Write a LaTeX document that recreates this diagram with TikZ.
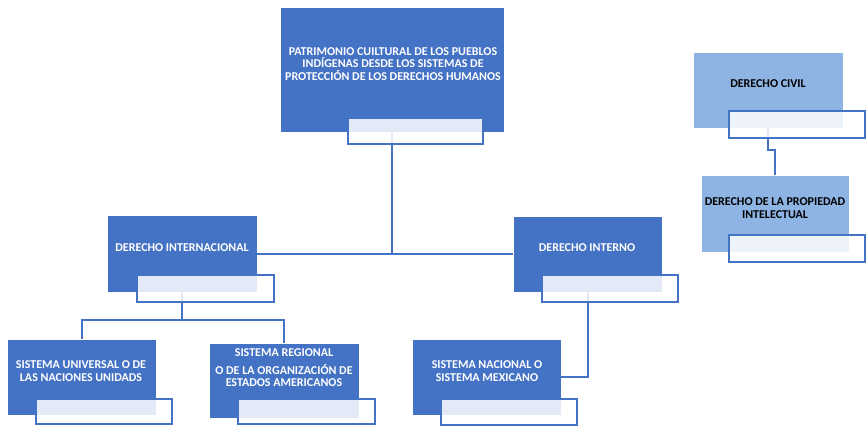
\documentclass[tikz,border=0pt]{standalone}
\usepackage{fontspec}
\setmainfont{Carlito}[BoldFont={Carlito Bold}]
\definecolor{dblue}{HTML}{4472C4}
\definecolor{lblue}{HTML}{8EB4E3}
\tikzset{
  every node/.style={inner sep=0pt, outer sep=0pt},
  bigbox/.style={draw=white, line width=0.6pt, fill=dblue, anchor=north west},
  lightbox/.style={draw=white, line width=0.6pt, fill=lblue, anchor=north west},
  subbox/.style={draw=dblue, line width=1.8pt, fill=white, fill opacity=0.85, anchor=north west},
  wtext/.style={text=white, font=\bfseries\fontsize{12}{12.5}\selectfont, align=center},
  btext/.style={text=black, font=\bfseries\fontsize{12}{12.5}\selectfont, align=center},
  conn/.style={draw=dblue, line width=2pt}
}
\begin{document}
\begin{tikzpicture}[x=1pt, y=-1pt]
\useasboundingbox (0,0) rectangle (866,426);
% main boxes
\node[bigbox, minimum width=224pt, minimum height=125pt] (top) at (280,7) {};
\node[bigbox, minimum width=150pt, minimum height=77pt] (intl) at (107,215) {};
\node[bigbox, minimum width=149pt, minimum height=76pt] (inter) at (513,216) {};
\node[bigbox, minimum width=149pt, minimum height=76pt] (univ) at (7,339) {};
\node[bigbox, minimum width=150pt, minimum height=75pt] (reg) at (209,343) {};
\node[bigbox, minimum width=149pt, minimum height=76pt] (nac) at (412,339) {};
\node[lightbox, minimum width=150pt, minimum height=76pt] (civil) at (693,52) {};
\node[lightbox, minimum width=148pt, minimum height=77pt] (prop) at (701,175) {};
% connectors
\draw[conn] (top.south) -- (top.south |- intl.east);
\draw[conn] (intl.east) -- (inter.west |- intl.east);
\draw[conn] (intl.south) -- ++(0,28) coordinate (ib);
\draw[conn] (univ.north) |- (ib) -| (reg.north);
\draw[conn] (inter.south) |- (nac.east);
\draw[conn] (civil.south) -- ++(0,22) -| (prop.north);
% sub boxes
\node[subbox, minimum width=135pt, minimum height=26pt] (tops) at (348,118) {};
\node[subbox, minimum width=137pt, minimum height=27pt] (intls) at (137,275) {};
\node[subbox, minimum width=136pt, minimum height=27pt] (inters) at (542,275) {};
\node[subbox, minimum width=136pt, minimum height=25pt] (univs) at (36,399) {};
\node[subbox, minimum width=137pt, minimum height=25pt] (regs) at (238,399) {};
\node[subbox, minimum width=136pt, minimum height=26pt] (nacs) at (441,399) {};
\node[subbox, minimum width=136pt, minimum height=27pt] (civils) at (729,111) {};
\node[subbox, minimum width=136pt, minimum height=27pt] (props) at (729,235) {};
% texts
\node[wtext] (ttop) at (393,64) {PATRIMONIO CUILTURAL DE LOS PUEBLOS\\IND\'IGENAS DESDE LOS SISTEMAS DE\\PROTECCI\'ON DE LOS DERECHOS HUMANOS};
\node[wtext] (tintl) at (182,248) {DERECHO INTERNACIONAL};
\node[wtext] (tinter) at (587,248) {DERECHO INTERNO};
\node[wtext] (tuniv) at (81,371) {SISTEMA UNIVERSAL O DE\\LAS NACIONES UNIDADS};
\node[wtext] (treg) at (284,368) {SISTEMA REGIONAL\\[5pt]O DE LA ORGANIZACI\'ON DE\\ESTADOS AMERICANOS};
\node[wtext] (tnac) at (487,371) {SISTEMA NACIONAL O\\SISTEMA MEXICANO};
\node[btext] (tcivil) at (768,84) {DERECHO CIVIL};
\node[btext] (tprop) at (775,208) {DERECHO DE LA PROPIEDAD\\INTELECTUAL};
\end{tikzpicture}
\end{document}
